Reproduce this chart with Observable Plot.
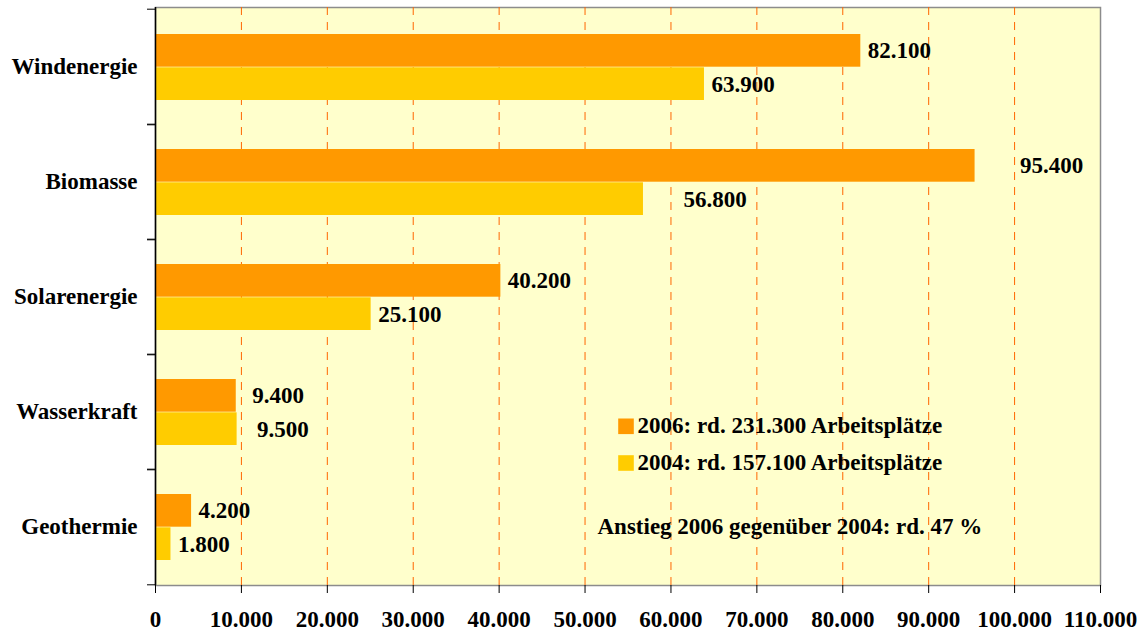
<!DOCTYPE html>
<html>
<head>
<meta charset="utf-8">
<script src="https://cdn.jsdelivr.net/npm/d3@7"></script>
<script src="https://cdn.jsdelivr.net/npm/@observablehq/plot@0.6"></script>
<style>
  html, body { margin: 0; padding: 0; background: white; }
  #chart svg { display: block; }
</style>
</head>
<body>
<div id="chart"></div>
<script>
const categories = ["Windenergie", "Biomasse", "Solarenergie", "Wasserkraft", "Geothermie"];
const years = ["2006", "2004"];
const jobs2006 = [82100, 95400, 40200, 9400, 4200];
const jobs2004 = [63900, 56800, 25100, 9500, 1800];
const xTicks = [0, 10000, 20000, 30000, 40000, 50000, 60000, 70000, 80000, 90000, 100000, 110000];
const legendLabels = ["2006: rd. 231.300 Arbeitsplätze", "2004: rd. 157.100 Arbeitsplätze"];
const noteText = "Anstieg 2006 gegenüber 2004: rd. 47 %";

const de = d3.formatLocale({decimal: ",", thousands: ".", grouping: [3], currency: ["", " €"]});
const fmt = de.format(",");

const rows = [];
categories.forEach((c, i) => {
  rows.push({category: c, year: "2006", value: jobs2006[i]});
  rows.push({category: c, year: "2004", value: jobs2004[i]});
});
const r2006 = rows.filter(d => d.year === "2006");
const r2004 = rows.filter(d => d.year === "2004");

const colors = {"2006": "#FF9900", "2004": "#FFCC00"};
// extra label offsets (label placement as in the original)
const extraDx = {"Biomasse|2006": 38, "Biomasse|2004": 33, "Wasserkraft|2006": 9, "Wasserkraft|2004": 13};

const W = 1145, H = 632;
const mTop = 7, mBottom = 47, mLeft = 155, mRight = 45;
const band = (H - mTop - mBottom) / categories.length;
const barH = 33.3;
const gapTop = 25;
const FS = 23;

function labelMarks(data, dy) {
  return data.map(d => Plot.text([d], {
    x: "value", y: "category", text: d => fmt(d.value),
    textAnchor: "start", dx: 7 + (extraDx[d.category + "|" + d.year] || 0), dy,
    fontSize: FS, fontWeight: "bold", fill: "black"
  }));
}
const c2006 = gapTop + barH / 2 - band / 2;
const c2004 = gapTop + 1.5 * barH - band / 2;

const chart = Plot.plot({
  width: W, height: H,
  marginTop: mTop, marginBottom: mBottom, marginLeft: mLeft, marginRight: mRight,
  style: {fontFamily: "'Liberation Serif', 'Times New Roman', serif", fontSize: FS + "px", fontWeight: "bold", background: "white", color: "black"},
  x: {domain: [0, 110000], ticks: xTicks, tickFormat: fmt, label: null},
  y: {domain: categories, padding: 0, label: null},
  marks: [
    Plot.frame({fill: "#FFFFCC", stroke: "#8c8c8c", strokeWidth: 1.5}),
    Plot.ruleX(xTicks.slice(1, -1), {stroke: "#FF6600", strokeDasharray: "8,7", strokeWidth: 1}),
    Plot.barX(r2006, {x: "value", y: "category", fill: colors["2006"], insetTop: gapTop, insetBottom: band - gapTop - barH}),
    Plot.barX(r2004, {x: "value", y: "category", fill: colors["2004"], insetTop: gapTop + barH, insetBottom: band - gapTop - 2 * barH}),
    ...labelMarks(r2006, c2006),
    ...labelMarks(r2004, c2004),
    Plot.ruleX([0], {stroke: "black", strokeWidth: 1.5}),
    Plot.axisX({ticks: xTicks, tickFormat: fmt, tickSize: 8, tickPadding: 17, fontSize: FS, fontWeight: "bold", stroke: "black", line: true, label: null}),
    Plot.axisY({tickSize: 0, tickPadding: 18, fontSize: FS, fontWeight: "bold", label: null}),
    Plot.axisY({tickSize: 8, text: null, dy: -band / 2, stroke: "black", label: null}),
    Plot.axisY({tickSize: 8, text: null, dy: band / 2, stroke: "black", label: null}),
    // legend inside the plot area
    Plot.dot([legendLabels[0]], {frameAnchor: "top-left", dx: 470.5, dy: 418.8, symbol: "square", r: 8.8, fill: colors["2006"], stroke: null}),
    Plot.dot([legendLabels[1]], {frameAnchor: "top-left", dx: 470.5, dy: 455.5, symbol: "square", r: 8.8, fill: colors["2004"], stroke: null}),
    Plot.text([legendLabels[0]], {frameAnchor: "top-left", dx: 482, dy: 418.5, text: d => d, textAnchor: "start", lineAnchor: "middle", fontSize: FS, fontWeight: "bold", fill: "black"}),
    Plot.text([legendLabels[1]], {frameAnchor: "top-left", dx: 482, dy: 455.5, text: d => d, textAnchor: "start", lineAnchor: "middle", fontSize: FS, fontWeight: "bold", fill: "black"}),
    Plot.text([noteText], {frameAnchor: "top-left", dx: 442, dy: 519, text: d => d, textAnchor: "start", lineAnchor: "middle", fontSize: FS, fontWeight: "bold", fill: "black"})
  ]
});
document.getElementById("chart").appendChild(chart);
</script>
</body>
</html>
